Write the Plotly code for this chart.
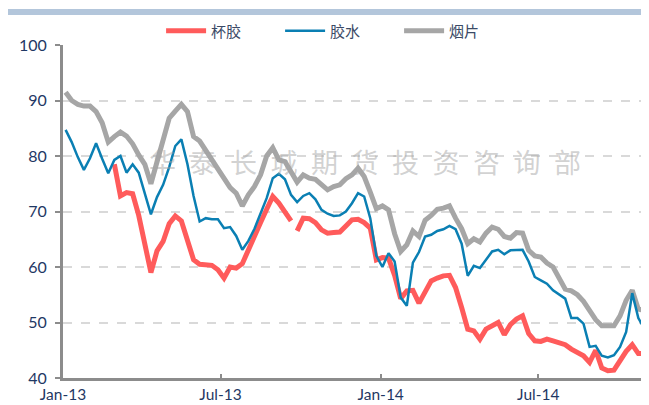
import pandas as pd
import plotly.graph_objects as go

# ---- data (weekly readings, Jan-2013 .. Nov-2014) ----
start_date = "2013-01-04"
n_weeks = 97
dates = pd.date_range(start_date, periods=n_weeks, freq="7D")

red_name = "杯胶"
blue_name = "胶水"
gray_name = "烟片"

red_vals = [None, None, None, None, None, None, None, None,
            78.5, 72.8, 73.4, 73.2, 69.3, 64.5, 59.0, 62.9, 64.6, 67.8, 69.2, 68.3,
            64.6, 61.3, 60.5, 60.4, 60.3, 59.5, 58.0, 60.0, 59.8, 60.6,
            62.9, 65.4, 68.0, 70.4, 72.7, 71.5, 69.8, 68.3, 66.5, 68.8,
            68.7, 68.0, 66.7, 66.1, 66.2, 66.3, 67.4, 68.5, 68.6, 68.0,
            67.0, 61.3, 61.7, 61.6, 58.5, 54.3, 55.7, 55.8, 53.5, 55.5,
            57.5, 58.0, 58.4, 58.5, 56.3, 52.7, 48.8, 48.5, 47.0, 48.8,
            49.5, 50.0, 47.8, 49.6, 50.6, 51.2, 48.0, 46.7, 46.6, 47.0,
            46.7, 46.3, 46.0, 45.2, 44.6, 44.0, 42.8, 45.0, 41.8, 41.3,
            41.4, 43.2, 44.8, 46.0, 44.4, 44.4, 42.2]
red_gap_date = "2013-09-24"  # missing quotes between these weeks

blue_vals = [84.7, 82.5, 79.8, 77.5, 79.6, 82.3, 79.5, 76.9, 79.3, 80.0,
             77.0, 78.5, 77.0, 73.1, 69.5, 72.6, 74.8, 78.0, 81.8, 83.0,
             78.5, 72.8, 68.2, 68.8, 68.6, 68.6, 67.0, 67.2, 65.6, 63.1,
             64.7, 66.9, 69.5, 72.4, 76.0, 76.8, 75.8, 73.0, 71.7, 72.8,
             73.3, 72.2, 70.3, 69.6, 69.2, 69.3, 70.0, 71.5, 73.3, 72.7,
             68.8, 62.0, 60.0, 62.5, 61.0, 54.5, 53.0, 60.8, 62.7, 65.5,
             65.8, 66.5, 66.8, 67.4, 66.8, 64.2, 58.4, 60.2, 59.8, 61.3,
             62.8, 63.1, 62.3, 63.0, 63.0, 63.1, 61.0, 58.2, 57.6, 57.0,
             55.8, 55.1, 54.3, 50.8, 50.8, 49.8, 45.6, 45.8, 44.0, 43.7,
             44.1, 45.6, 48.3, 55.3, 50.8, 48.9, 46.0]

gray_vals = [91.5, 90.0, 89.3, 89.0, 89.0, 88.0, 86.0, 82.5, 83.5, 84.3,
             83.6, 82.2, 80.2, 78.5, 75.0, 79.0, 83.0, 86.8, 88.1, 89.3,
             88.0, 83.5, 82.7, 81.0, 79.5, 77.8, 76.3, 74.3, 73.3, 71.0,
             73.0, 74.5, 76.6, 80.0, 81.5, 79.3, 79.0, 77.0, 75.3, 76.6,
             76.0, 75.8, 74.8, 73.9, 74.5, 74.8, 75.9, 76.6, 77.8, 76.3,
             73.5, 70.5, 71.0, 70.3, 66.0, 62.8, 64.0, 66.5, 65.5, 68.4,
             69.3, 70.4, 70.6, 71.0, 68.8, 66.9, 64.2, 65.1, 64.5, 66.1,
             67.2, 66.8, 65.5, 65.2, 66.2, 66.1, 63.0, 62.0, 61.8, 60.7,
             60.0, 58.2, 56.0, 55.7, 55.0, 53.8, 52.0, 50.5, 49.4, 49.4,
             49.4, 51.2, 54.0, 55.8, 52.4, 52.2, 49.6]

y_range = [40, 100]
y_ticks = [40, 50, 60, 70, 80, 90, 100]
x_ticks = ["2013-01-01", "2013-07-01", "2014-01-01", "2014-07-01"]
x_tick_labels = ["Jan-13", "Jul-13", "Jan-14", "Jul-14"]
x_range = ["2013-01-01", "2014-11-11"]
watermark = "华泰长城期货投资咨询部"

# ---- build red series with its gap ----
red_s = pd.Series(red_vals, index=dates, dtype="float")
red_s = pd.concat([red_s, pd.Series([None], index=pd.to_datetime([red_gap_date]), dtype="float")]).sort_index()
red_y = [None if pd.isna(v) else v for v in red_s.values]

RED = "#FF5B5B"
BLUE = "#0A7FB3"
GRAY = "#A6A6A6"
NAVY = "#1F3864"
TICKFONT = "Century Gothic, Lato, DejaVu Sans, sans-serif"

fig = go.Figure()
fig.add_trace(go.Scatter(x=dates, y=gray_vals, name=gray_name, mode="lines",
                         line=dict(color=GRAY, width=5), legendrank=3))
fig.add_trace(go.Scatter(x=red_s.index, y=red_y, name=red_name, mode="lines",
                         line=dict(color=RED, width=5), connectgaps=False, legendrank=1))
fig.add_trace(go.Scatter(x=dates, y=blue_vals, name=blue_name, mode="lines",
                         line=dict(color=BLUE, width=2.5), legendrank=2))

fig.update_layout(
    width=649, height=405,
    margin=dict(l=55, r=3, t=37, b=35),
    paper_bgcolor="white", plot_bgcolor="white",
    showlegend=True,
    legend=dict(orientation="h", x=0.468, y=1.042, xanchor="center", yanchor="middle",
                font=dict(family="Noto Sans CJK SC", size=15, color="#3B4A66"),
                entrywidth=64, entrywidthmode="pixels",
                bgcolor="rgba(0,0,0,0)", itemwidth=40),
    xaxis=dict(type="date", range=x_range, tickmode="array", tickvals=x_ticks,
               ticktext=x_tick_labels, showgrid=False, showline=True,
               linecolor="#8C8C8C", linewidth=3, ticks="inside", ticklen=4,
               tickwidth=2, tickcolor="#8C8C8C",
               tickfont=dict(family=TICKFONT, size=15.5, color=NAVY), zeroline=False),
    yaxis=dict(range=y_range, tickmode="array", tickvals=y_ticks, showgrid=True,
               gridcolor="#D9D9D9", griddash="dash", gridwidth=2,
               showline=True, linecolor="#8C8C8C", linewidth=3, ticks="outside",
               ticklen=5, tickwidth=2, tickcolor="#8C8C8C", ticklabelstandoff=5,
               tickfont=dict(family=TICKFONT, size=16, color=NAVY), zeroline=False),
    shapes=[dict(type="rect", xref="paper", yref="paper", x0=-0.1, x1=1.01,
                 y0=1.09, y1=1.108, fillcolor="#B3C6DB", line=dict(width=0), layer="below")],
    annotations=[dict(text="\u2002".join(watermark), xref="paper", yref="paper",
                      x=0.511, y=0.65, showarrow=False,
                      font=dict(family="Noto Sans CJK SC", size=27, color="rgba(165,165,165,0.5)"))],
)

fig.write_html("out.html")
